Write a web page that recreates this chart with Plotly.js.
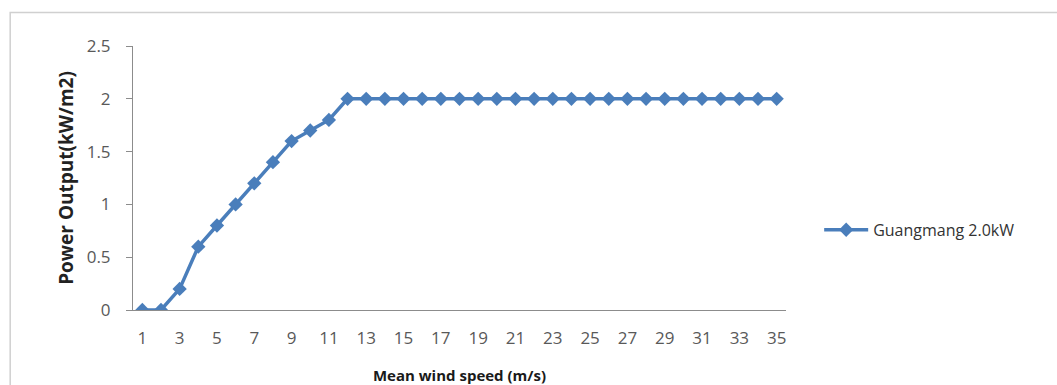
<!DOCTYPE html>
<html>
<head>
<meta charset="utf-8">
<script src="https://cdn.plot.ly/plotly-3.0.1.min.js"></script>
<style>html,body{margin:0;padding:0;background:#fff;}#chart{width:1057px;height:385px;}</style>
</head>
<body>
<div id="chart"></div>
<script>
const windSpeed = [1,2,3,4,5,6,7,8,9,10,11,12,13,14,15,16,17,18,19,20,21,22,23,24,25,26,27,28,29,30,31,32,33,34,35];
const powerOutput = [0,0,0.2,0.6,0.8,1.0,1.2,1.4,1.6,1.7,1.8,2,2,2,2,2,2,2,2,2,2,2,2,2,2,2,2,2,2,2,2,2,2,2,2];
const xTickLabels = [1,3,5,7,9,11,13,15,17,19,21,23,25,27,29,31,33,35];
const yTickLabels = [0,0.5,1,1.5,2,2.5];
const seriesName = "Guangmang 2.0kW";

const data = [{
  x: windSpeed,
  y: powerOutput,
  type: 'scatter',
  mode: 'lines+markers',
  name: seriesName,
  line: {color: '#4A7EBB', width: 3.5},
  marker: {symbol: 'diamond', size: 11, color: '#4A7EBB'}
}];

const fontFam = '"Open Sans", "Noto Sans", sans-serif';
const layout = {
  width: 1057, height: 385,
  paper_bgcolor: '#fff', plot_bgcolor: '#fff',
  margin: {l: 133, r: 271, t: 46, b: 75},
  showlegend: true,
  font: {family: fontFam, size: 15, color: '#595959'},
  xaxis: {
    range: [0.5, 35.5],
    tickmode: 'array', tickvals: xTickLabels, ticktext: xTickLabels.map(String),
    showgrid: false, zeroline: false,
    showline: true, linecolor: '#8C8C8C', linewidth: 1,
    ticks: 'outside', ticklen: 13, tickcolor: 'rgba(0,0,0,0)',
    tickfont: {family: fontFam, size: 17, color: '#595959'},
    title: {text: 'Mean wind speed (m/s)', font: {family: fontFam, size: 15, color: '#1a1a1a', weight: 'bold'}, standoff: 23},
    automargin: false
  },
  yaxis: {
    range: [0, 2.5],
    tickmode: 'array', tickvals: yTickLabels, ticktext: ['0','0.5','1','1.5','2','2.5'],
    showgrid: false, zeroline: false,
    showline: true, linecolor: '#8C8C8C', linewidth: 1,
    ticks: 'outside', ticklen: 6, tickcolor: '#8C8C8C',
    ticklabelstandoff: 12,
    tickfont: {family: fontFam, size: 17, color: '#595959'},
    title: {text: 'Power Output(kW/m2)', font: {family: fontFam, size: 19, color: '#222', weight: 'bold'}, standoff: 8},
    automargin: false
  },
  legend: {
    x: 0.775, y: 0.403, xref: 'container', yref: 'container',
    xanchor: 'left', yanchor: 'middle',
    font: {family: fontFam, size: 16, color: '#333'},
    itemwidth: 44,
    bgcolor: 'rgba(0,0,0,0)', borderwidth: 0
  },
  shapes: [{
    type: 'rect', xref: 'paper', yref: 'paper',
    x0: -123/654, x1: 1060/654 , y0: -1, y1: (385-12.5-75)/264,
    line: {color: '#D0D0D0', width: 1.5}, fillcolor: 'rgba(0,0,0,0)', layer: 'below'
  }]
};

Plotly.newPlot('chart', data, layout, {displayModeBar: false, staticPlot: true});
</script>
</body>
</html>
